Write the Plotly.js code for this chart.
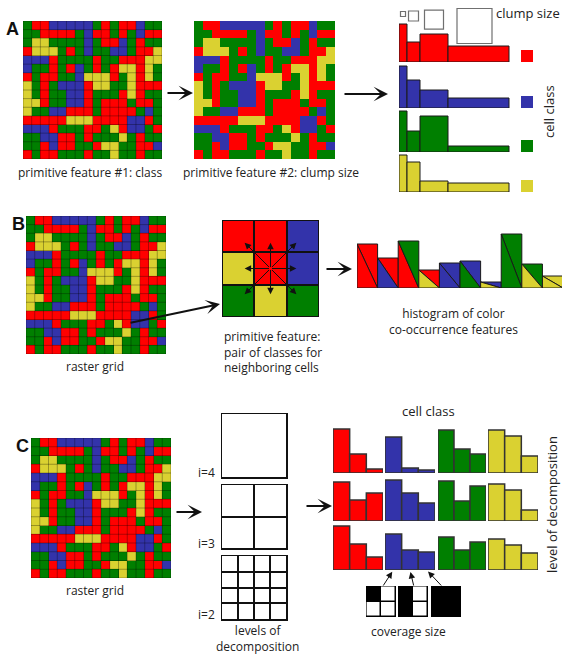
<!DOCTYPE html>
<html><head><meta charset="utf-8">
<script src="https://cdn.plot.ly/plotly-3.0.1.min.js"></script>
<style>html,body{margin:0;padding:0;background:#fff}#chart{width:562px;height:655px}</style>
</head><body><div id="chart"></div>
<script>
// ================= DATA =================
const classLetters = ['R','B','G','Y'];            // red, blue, green, yellow cell classes
const rasterRows = [
  'GRRBBBBBGRGRRBGG',
  'GGRRRRGBRRGRGBRR',
  'GYYGGGGBGRRBGRGG',
  'RYYYGRGBGGBBGRRY',
  'BBBRGGGGRGGRRRYY',
  'BGGRGRBGRGRYYRYG',
  'RGRRGGBYYYRGYRYG',
  'YGRGBBBRYYGGYRRR',
  'YGRGGBBRGGGRYRGG',
  'YYRGGBBRGRRRGRRG',
  'YGGBBRRRGRRRRGBG',
  'RRRRRYYYRRRRBBRG',
  'BBBRGGGRRGYRBBGR',
  'GGBBRRGRGGGYGRGG',
  'GGRBRRGGRYYGGRRB',
  'RGRRGGGRGGYGGRGG'
];
// clump-size histograms (4 clump-size bins) per class
const clumpRed    = [38, 20, 28, 16];
const clumpBlue   = [42, 28, 18, 10];
const clumpGreen  = [41, 21, 36, 6];
const clumpYellow = [37, 30, 11, 9];
// 3x3 neighbourhood
const neighborhood = ['RRB', 'YRB', 'GYG'];
// co-occurrence histogram
const coocPairs  = ['RR','RB','GR','RY','BB','BG','BY','GG','GY','YY'];
const coocValues = [44, 30, 47, 18, 25, 27, 6, 54, 24, 12];
// decomposition levels
const decompLevels = [4, 3, 2];
// coverage histograms per level, per class [red, blue, green, yellow], 3 coverage bins
const covLevel4 = [[44,19,4],[36,5,3],[43,24,19],[43,37,17]];
const covLevel3 = [[39,21,28],[41,28,18],[40,20,35],[37,31,11]];
const covLevel2 = [[44,26,13],[36,20,18],[33,20,28],[31,25,17]];
// coverage-size icons (2x2 cells, 1 = covered)
const coverageIcons = [[[1,0],[0,0]], [[1,0],[1,0]], [[1,1],[1,1]]];

// ================= SETUP =================
const W = 562, H = 655;
const fx = x => x / W, fy = y => 1 - y / H;
const COLORS = ['#ff0000', '#3333aa', '#007f00', '#dad131'];
const code = {R:0, B:1, G:2, Y:3};
const rasterZ = rasterRows.map(r => r.split('').map(c => code[c]));
const classScale = [[0,COLORS[0]],[0.25,COLORS[0]],[0.25,COLORS[1]],[0.5,COLORS[1]],
                    [0.5,COLORS[2]],[0.75,COLORS[2]],[0.75,COLORS[3]],[1,COLORS[3]]];
const traces = [], shapes = [], annotations = [];
const layout = {
  width: W, height: H, margin: {l:0, r:0, t:0, b:0},
  paper_bgcolor: '#fff', plot_bgcolor: 'rgba(0,0,0,0)', showlegend: false,
  hovermode: false,
  font: {family: '"Open Sans", sans-serif', size: 12, color: '#222'},
  shapes, annotations
};
let nAx = 0;
function axes(x0, x1, y0, y1, xr, yr, xo = {}, yo = {}) {
  nAx++; const s = nAx === 1 ? '' : String(nAx);
  const base = {visible:false, fixedrange:true, showgrid:false, zeroline:false};
  layout['xaxis' + s] = Object.assign({}, base, {domain:[fx(x0), fx(x1)], range:xr, anchor:'y' + s}, xo);
  layout['yaxis' + s] = Object.assign({}, base, {domain:[fy(y1), fy(y0)], range:yr, anchor:'x' + s}, yo);
  traces.push({type:'scatter', x:[], y:[], xaxis:'x' + s, yaxis:'y' + s, hoverinfo:'skip'});
  return {xa:'x' + s, ya:'y' + s};
}
function gridLines(nr, nc, ax, color, width) {
  const xs = [], ys = [];
  for (let k = 0; k <= nc; k++) { xs.push(k - 0.5, k - 0.5, null); ys.push(-0.5, nr - 0.5, null); }
  for (let k = 0; k <= nr; k++) { xs.push(-0.5, nc - 0.5, null); ys.push(k - 0.5, k - 0.5, null); }
  return {type:'scatter', mode:'lines', x:xs, y:ys, xaxis:ax.xa, yaxis:ax.ya,
          line:{color, width}, hoverinfo:'skip', cliponaxis:true};
}
function raster(ax, lines) {
  traces.push({type:'heatmap', z:rasterZ, xaxis:ax.xa, yaxis:ax.ya, colorscale:classScale,
               zmin:-0.5, zmax:3.5, showscale:false, hoverinfo:'skip'});
  if (lines) traces.push(gridLines(rasterZ.length, rasterZ[0].length, ax, 'rgba(0,0,0,0.3)', 1));
}
function label(t, x, y, opt = {}) {
  annotations.push(Object.assign({xref:'paper', yref:'paper', x:fx(x), y:fy(y), text:t, showarrow:false,
    xanchor:'center', yanchor:'middle', font:{size:12, color:'#222'}}, opt));
}
function arrow(xTip, yTip, xTail, yTail, opt = {}) {
  annotations.push(Object.assign({xref:'paper', yref:'paper', x:fx(xTip), y:fy(yTip),
    ax:xTail - xTip, ay:yTail - yTip, text:'', showarrow:true, arrowhead:3, arrowsize:1.2,
    arrowwidth:2, arrowcolor:'#111'}, opt));
}
const N = rasterZ.length, M = rasterZ[0].length;
const rX = [-0.5, M - 0.5], rY = [N - 0.5, -0.5];
const boldFont = {family:'"Liberation Sans", Arial, sans-serif', size:18, color:'#111'};

// ================= PANEL A =================
raster(axes(23, 162, 21, 159, rX, rY), true);
raster(axes(194, 335, 21, 159, rX, rY), false);
label('<b>A</b>', 13, 29, {font:boldFont});
label('primitive feature #1: class', 90, 172);
label('primitive feature #2: clump size', 271, 172);
arrow(193, 93, 166, 93);
arrow(388, 94, 343, 94);

const clumpEdges = [0, 8, 21, 49, 110];
const clumpCenters = clumpEdges.slice(0, -1).map((e, i) => (e + clumpEdges[i + 1]) / 2);
const clumpWidths = clumpEdges.slice(0, -1).map((e, i) => clumpEdges[i + 1] - e);
const clumpSets = [clumpRed, clumpBlue, clumpGreen, clumpYellow];
const clumpBase = [62, 108, 152, 192];
clumpSets.forEach((vals, c) => {
  const ax = axes(399, 545, clumpBase[c] - 46, clumpBase[c], [0, 146], [0, 46]);
  traces.push({type:'bar', x:clumpCenters, y:vals, width:clumpWidths, xaxis:ax.xa, yaxis:ax.ya,
    marker:{color:COLORS[c], line:{color:'#1a1a1a', width:1}}, hoverinfo:'skip'});
  traces.push({type:'scatter', mode:'markers', x:[128], y:[6], xaxis:ax.xa, yaxis:ax.ya, cliponaxis:false,
    marker:{symbol:'square', size:12, color:COLORS[c]}, hoverinfo:'skip'});
});
// clump-size icons
const clumpIconPx = [5, 10, 19, 35];
{
  const ax = axes(399, 545, 0, 50, [0, 146], [50, 0]);
  traces.push({type:'scatter', mode:'markers', x:clumpCenters.map((c, i) => i === 3 ? c - 4 : c),
    y:clumpIconPx.map(s => 12 + s * 0.4), xaxis:ax.xa, yaxis:ax.ya, cliponaxis:false,
    marker:{symbol:'square-open', size:clumpIconPx, color:'#333', line:{width:1.2, color:'#333'}}, hoverinfo:'skip'});
}
label('clump size', 528, 13, {font:{size:13, color:'#222'}});
label('cell class', 549, 112, {textangle:-90, font:{size:13, color:'#222'}});

// ================= PANEL B =================
const axB = axes(26, 166, 216, 354, rX, rY);
raster(axB, true);
label('<b>B</b>', 18, 224, {font:boldFont});
label('raster grid', 95, 367);
arrow(220, 304, 129, 323);

const nbZ = neighborhood.map(r => r.split('').map(c => code[c]));
const axN = axes(222, 319, 220, 317, [-0.5, 2.5], [2.5, -0.5]);
shapes.push({type:'rect', xref:axN.xa, yref:axN.ya, x0:-0.5, x1:2.5, y0:-0.5, y1:2.5,
  fillcolor:'#111', line:{width:0}, layer:'below'});
traces.push({type:'heatmap', z:nbZ, xaxis:axN.xa, yaxis:axN.ya, colorscale:classScale, zmin:-0.5, zmax:3.5,
  showscale:false, xgap:2, ygap:2, hoverinfo:'skip'});
shapes.push({type:'rect', xref:axN.xa, yref:axN.ya, x0:-0.5, x1:2.5, y0:-0.5, y1:2.5,
  line:{color:'#111', width:2}, layer:'above'});
for (let dy = -1; dy <= 1; dy++) for (let dx = -1; dx <= 1; dx++) {
  if (!dx && !dy) continue;
  annotations.push({xref:axN.xa, yref:axN.ya, axref:axN.xa, ayref:axN.ya,
    x:1 + 0.8 * dx, y:1 + 0.8 * dy, ax:1, ay:1, text:'', showarrow:true,
    arrowhead:2, arrowsize:1.3, arrowwidth:1, arrowcolor:'#111'});
}
label('primitive feature:<br>pair of classes for<br>neighboring cells', 222, 352, {xanchor:'left', align:'left'});
arrow(352, 269, 325, 269);

{
  const ax = axes(357, 562, 228, 288, [-0.5, 9.45], [0, 60]);
  for (let c = 0; c < 4; c++) {
    const ux = [], uy = [], lx = [], ly = [];
    coocPairs.forEach((p, i) => {
      const h = coocValues[i], a = i - 0.5, b = i + 0.5;
      if (code[p[0]] === c) { ux.push(a, b, b, a, null); uy.push(h, h, 0, h, null); }
      if (code[p[1]] === c) { lx.push(a, a, b, a, null); ly.push(h, 0, 0, h, null); }
    });
    [[ux, uy], [lx, ly]].forEach(([xs, ys]) => {
      if (!xs.length) return;
      traces.push({type:'scatter', mode:'lines', x:xs, y:ys, fill:'toself', fillcolor:COLORS[c],
        line:{color:'#1a1a1a', width:1}, xaxis:ax.xa, yaxis:ax.ya, hoverinfo:'skip'});
    });
  }
}
label('histogram of color<br>co-occurrence features', 453, 321);

// ================= PANEL C =================
raster(axes(31, 171, 438, 578, rX, rY), true);
label('<b>C</b>', 22, 446, {font:boldFont});
label('raster grid', 95, 590);
arrow(202, 512, 175, 512);

const decompTop = [414, 485, 556];
decompLevels.forEach((lvl, k) => {
  const n = Math.pow(2, 4 - lvl);
  const g = {visible:true, showticklabels:false, ticks:'', showgrid:true, gridcolor:'#111', gridwidth:2,
    dtick:1, tick0:0, showline:true, mirror:true, linecolor:'#111', linewidth:1.5, zeroline:false};
  axes(222, 286, decompTop[k], decompTop[k] + 63, [0, n], [0, n], g, g);
  label('i=' + lvl, 217, decompTop[k] + 58, {xanchor:'right'});
});
label('levels of<br>decomposition', 257, 638);
arrow(332, 506, 305, 506);

const covLevels = [covLevel4, covLevel3, covLevel2];
const covColX = [[333, 383], [385, 435], [438, 486], [488, 538]];
const covBase = [473, 521, 570];
let blueBottom = null;
covLevels.forEach((lvl, r) => {
  lvl.forEach((vals, c) => {
    const ax = axes(covColX[c][0], covColX[c][1], covBase[r] - 46, covBase[r], [-0.5, 2.5], [0, 46]);
    traces.push({type:'bar', x:[0, 1, 2], y:vals, width:1, xaxis:ax.xa, yaxis:ax.ya, cliponaxis:false,
      marker:{color:COLORS[c], line:{color:'#333', width:1.5}}, hoverinfo:'skip'});
    if (r === 2 && c === 1) blueBottom = ax;
  });
});
label('cell class', 428, 411, {font:{size:13, color:'#222'}});
label('level of decomposition', 552, 505, {textangle:-90, font:{size:13, color:'#222'}});

const iconX = [[366, 396], [398, 428], [431, 461]];
coverageIcons.forEach((z, k) => {
  const ax = axes(iconX[k][0], iconX[k][1], 586, 617, [-0.5, 1.5], [1.5, -0.5]);
  shapes.push({type:'rect', xref:ax.xa, yref:ax.ya, x0:-0.5, x1:1.5, y0:-0.5, y1:1.5,
    fillcolor:'#000', line:{width:0}, layer:'below'});
  traces.push({type:'heatmap', z, xaxis:ax.xa, yaxis:ax.ya, colorscale:[[0,'#fff'],[1,'#000']],
    zmin:0, zmax:1, showscale:false, xgap:1.5, ygap:1.5, hoverinfo:'skip'});
  shapes.push({type:'rect', xref:ax.xa, yref:ax.ya, x0:-0.5, x1:1.5, y0:-0.5, y1:1.5,
    line:{color:'#000', width:1.2}, layer:'above'});
  // arrow from icon to its coverage bin in the histogram
  annotations.push({xref:blueBottom.xa, yref:blueBottom.ya, x:k, y:0, ax:[-11, 4, 16][k], ay:17,
    text:'', showarrow:true, arrowhead:2, arrowsize:1.3, arrowwidth:1, arrowcolor:'#111', standoff:2});
});
label('coverage size', 408, 631);

Plotly.newPlot('chart', traces, layout, {staticPlot:true, displayModeBar:false});
</script>
</body></html>
